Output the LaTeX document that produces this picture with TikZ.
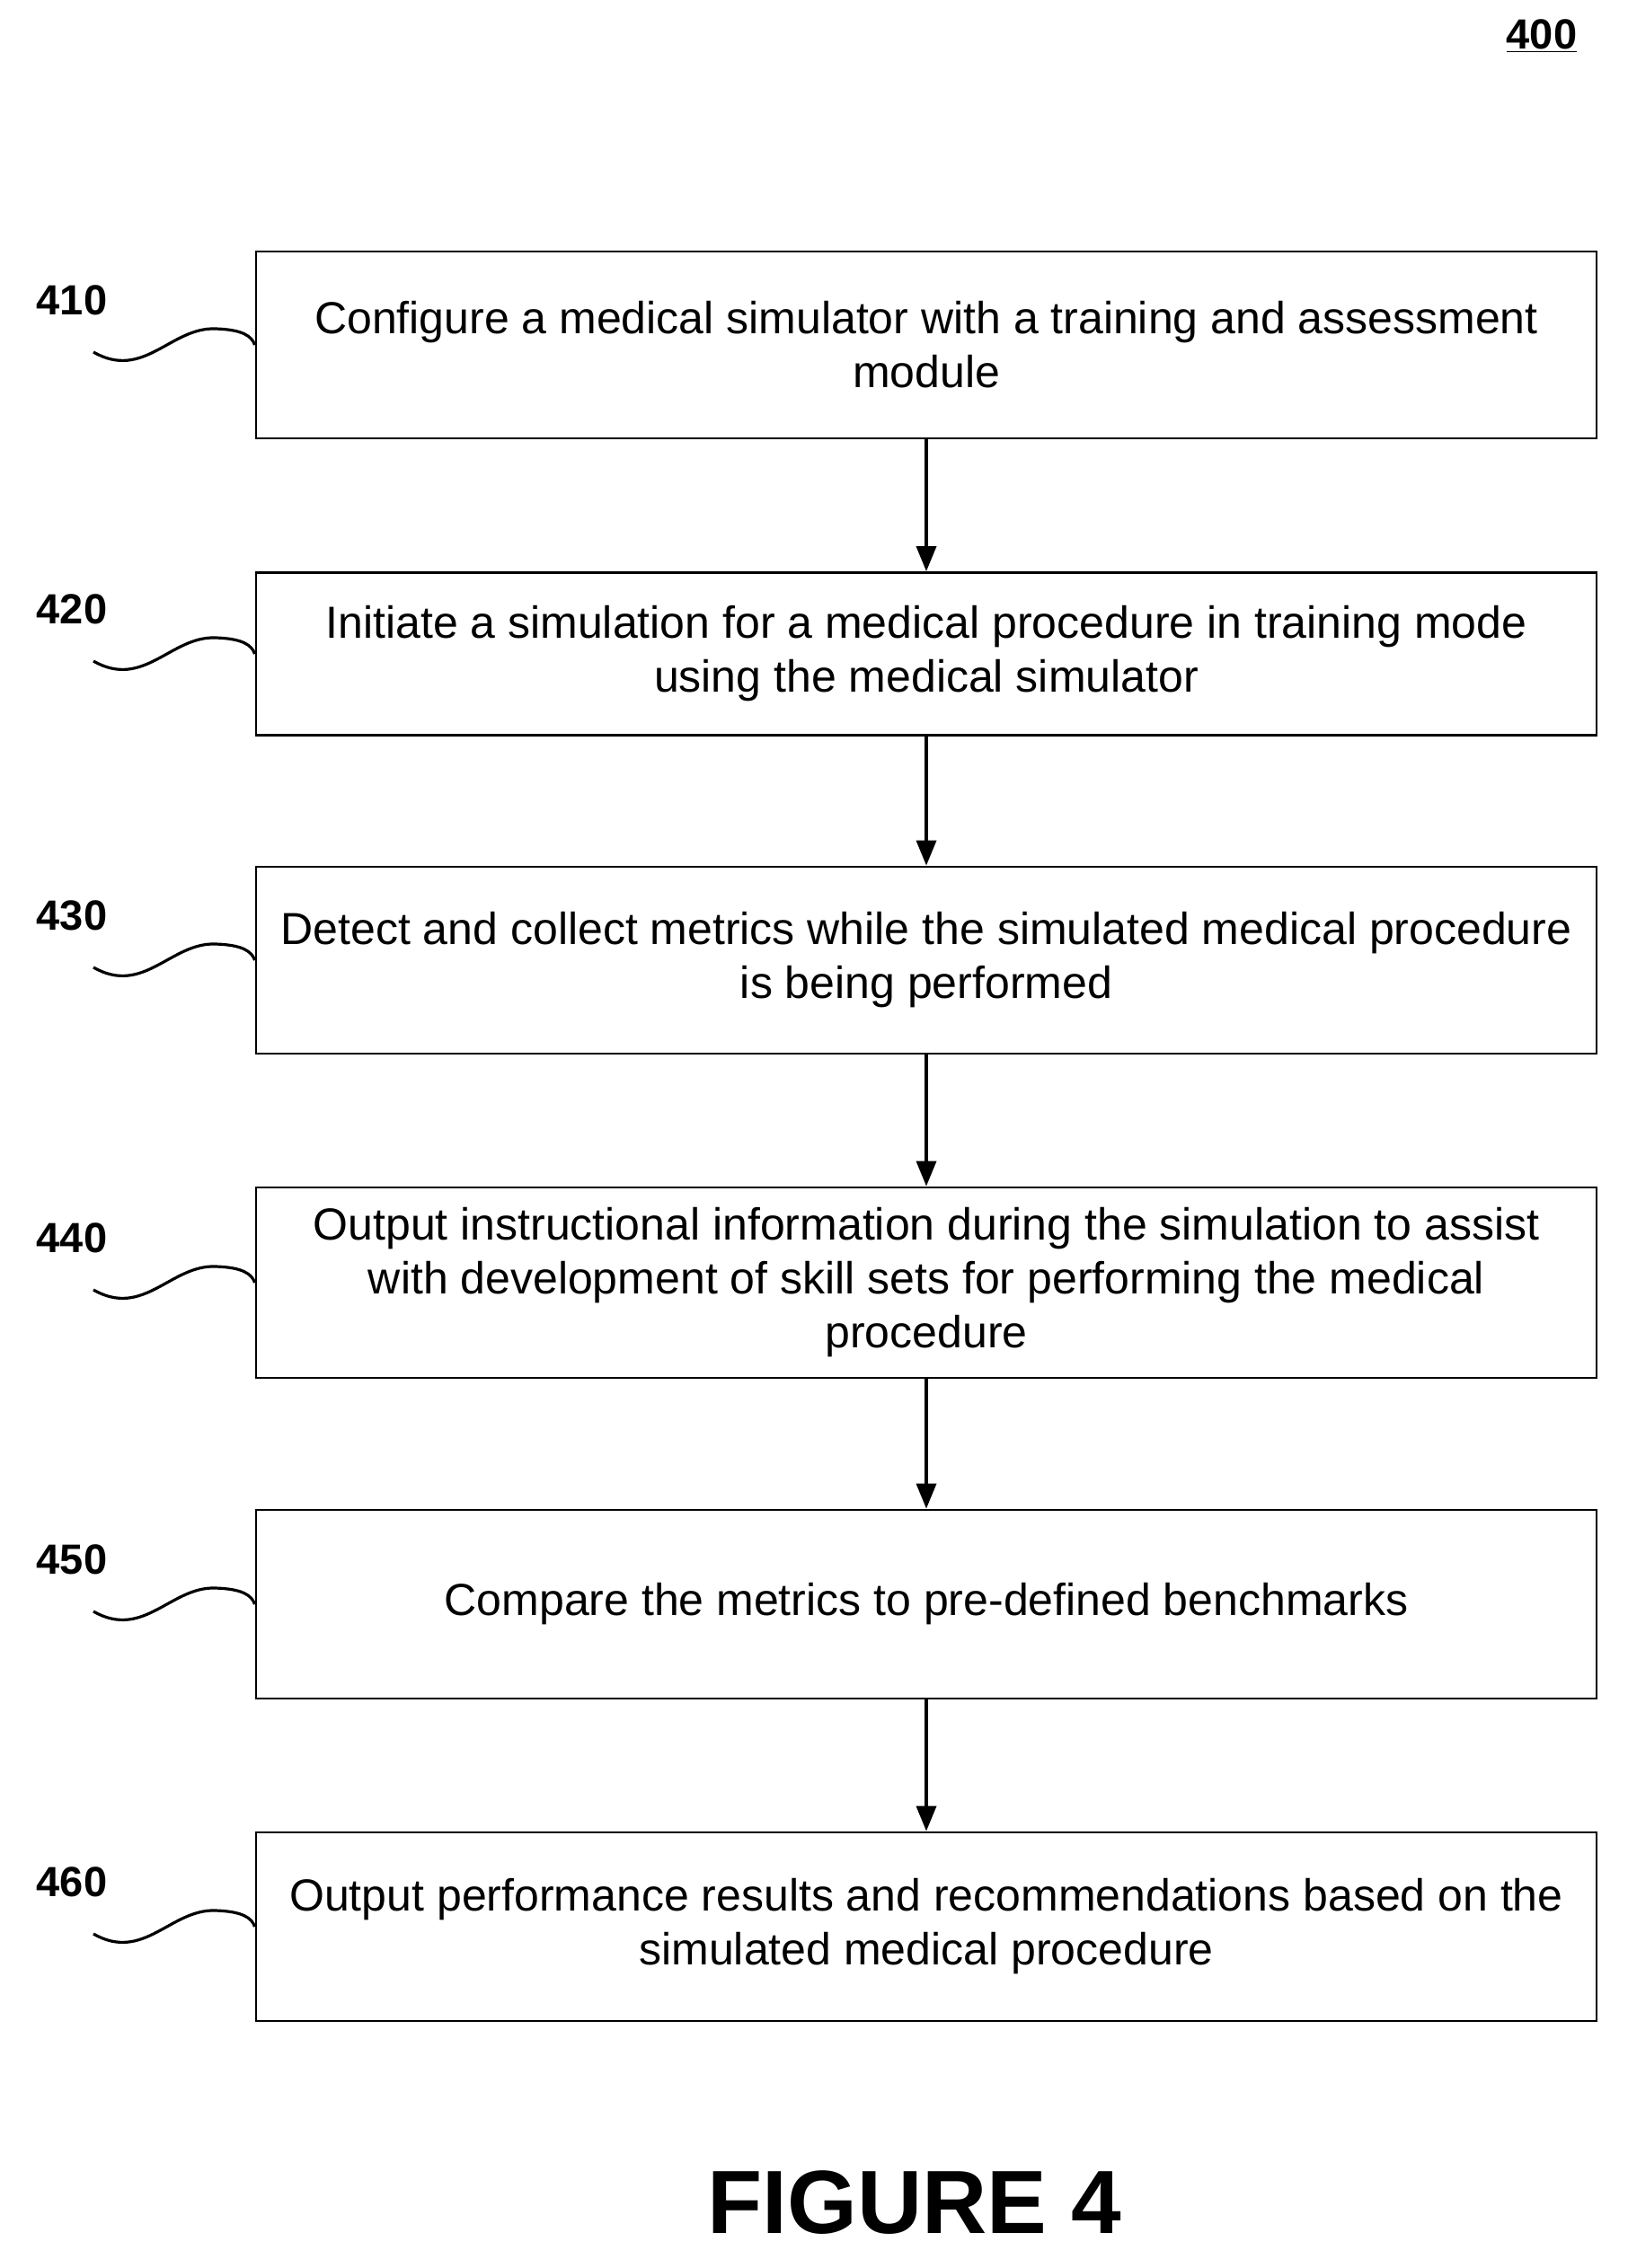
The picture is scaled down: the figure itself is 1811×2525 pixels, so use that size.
\documentclass[tikz,border=0pt]{standalone}
\usepackage{fontspec}
\setmainfont{Liberation Sans}
\usetikzlibrary{arrows.meta}
\begin{document}
\begin{tikzpicture}[x=0.5pt,y=-0.5pt,
 box/.style={draw,line width=1.4pt,minimum width=746pt,minimum height=104pt,align=center,font=\fontsize{25}{30}\selectfont,inner sep=0},
 lab/.style={font=\bfseries\fontsize{23.5}{26}\selectfont},
 arr/.style={-{Triangle[length=14pt,width=11pt]},line width=1.8pt},
 sq/.style={line width=1.6pt}]
\useasboundingbox (0,0) rectangle (1811,2525);
\node[lab] (n400) at (1716,40) {\underline{400}};
\foreach \n/\yc/\h/\t in {
 410/384/208/{Configure a medical simulator with a training and assessment\\module},
 420/728/181/{Initiate a simulation for a medical procedure in training mode\\using the medical simulator},
 430/1069/208/{Detect and collect metrics while the simulated medical procedure\\is being performed},
 440/1428/212/{Output instructional information during the simulation to assist\\with development of skill sets for performing the medical\\procedure},
 450/1786/210/{Compare the metrics to pre-defined benchmarks},
 460/2145/210/{Output performance results and recommendations based on the\\simulated medical procedure}}{
 \node[box,minimum height=\h*0.5pt] (b\n) at (1031,\yc) {\t};
 \node[lab] (l\n) at (80,\yc-50) {\n};
 \coordinate (s\n) at (104,\yc+8);
 \draw[sq] (s\n) .. controls (160,\yc+40) and (190,\yc-20) .. (240,\yc-18) .. controls (270,\yc-17) and (280,\yc-10) .. (b\n.west);
}
\draw[arr] (b410) -- (b420);
\draw[arr] (b420) -- (b430);
\draw[arr] (b430) -- (b440);
\draw[arr] (b440) -- (b450);
\draw[arr] (b450) -- (b460);
\node[font=\bfseries\fontsize{50}{60}\selectfont] (fig) at (1018,2452) {FIGURE 4};
\end{tikzpicture}
\end{document}
